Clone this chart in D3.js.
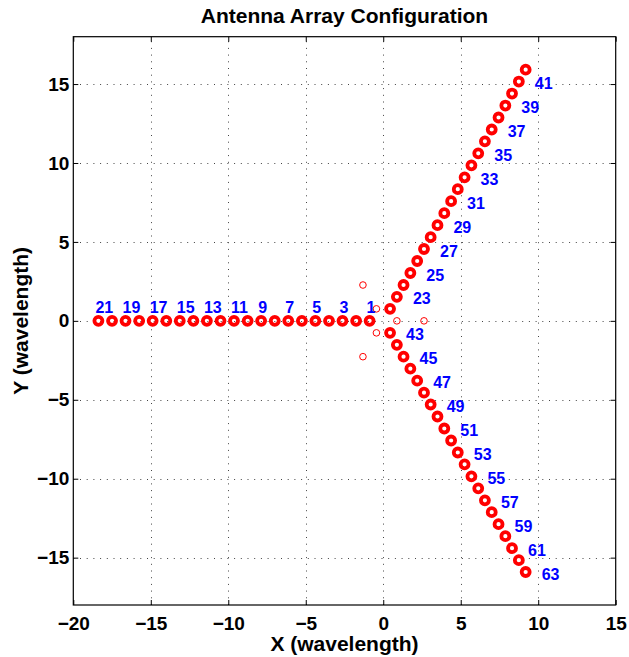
<!DOCTYPE html>
<html>
<head>
<meta charset="utf-8">
<script src="https://cdn.jsdelivr.net/npm/d3@7"></script>
<style>
  html, body { margin: 0; padding: 0; background: #fff; }
  text { font-family: "Liberation Sans", Arial, Helvetica, sans-serif; font-weight: bold; }
</style>
</head>
<body>
<script>
const xTicks = [-20, -15, -10, -5, 0, 5, 10, 15];
const yTicks = [-15, -10, -5, 0, 5, 10, 15];

// arm 1 (west), elements 1..21
const leftIds = [1, 2, 3, 4, 5, 6, 7, 8, 9, 10, 11, 12, 13, 14, 15, 16, 17, 18, 19, 20, 21];
const leftX = [-0.88, -1.75, -2.63, -3.50, -4.38, -5.25, -6.13, -7.00, -7.88, -8.75, -9.63,
  -10.50, -11.38, -12.25, -13.13, -14.00, -14.88, -15.75, -16.63, -17.50, -18.38];
const leftY = [0, 0, 0, 0, 0, 0, 0, 0, 0, 0, 0, 0, 0, 0, 0, 0, 0, 0, 0, 0, 0];

// arm 2 (north-east), elements 22..42
const upperIds = [22, 23, 24, 25, 26, 27, 28, 29, 30, 31, 32, 33, 34, 35, 36, 37, 38, 39, 40, 41, 42];
const upperX = [0.44, 0.88, 1.31, 1.75, 2.19, 2.63, 3.06, 3.50, 3.94, 4.38, 4.81,
  5.25, 5.69, 6.13, 6.56, 7.00, 7.44, 7.88, 8.31, 8.75, 9.19];
const upperY = [0.76, 1.52, 2.27, 3.03, 3.79, 4.55, 5.30, 6.06, 6.82, 7.58, 8.34,
  9.09, 9.85, 10.61, 11.37, 12.12, 12.88, 13.64, 14.40, 15.16, 15.91];

// arm 3 (south-east), elements 43..63
const lowerIds = [43, 44, 45, 46, 47, 48, 49, 50, 51, 52, 53, 54, 55, 56, 57, 58, 59, 60, 61, 62, 63];
const lowerX = [0.44, 0.88, 1.31, 1.75, 2.19, 2.63, 3.06, 3.50, 3.94, 4.38, 4.81,
  5.25, 5.69, 6.13, 6.56, 7.00, 7.44, 7.88, 8.31, 8.75, 9.19];
const lowerY = [-0.76, -1.52, -2.27, -3.03, -3.79, -4.55, -5.30, -6.06, -6.82, -7.58, -8.34,
  -9.09, -9.85, -10.61, -11.37, -12.12, -12.88, -13.64, -14.40, -15.16, -15.91];

// small inner elements
const innerX = [0.88, -0.44, -0.44, 2.63, -1.31, -1.31];
const innerY = [0, 0.76, -0.76, 0, 2.27, -2.27];

// element numbers written on the plot
const leftLabels = [1, 3, 5, 7, 9, 11, 13, 15, 17, 19, 21];
const upperLabels = [23, 25, 27, 29, 31, 33, 35, 37, 39, 41];
const lowerLabels = [43, 45, 47, 49, 51, 53, 55, 57, 59, 61, 63];

const main = () => {
  const width = 629;
  const height = 657;
  const margin = { top: 36.7, right: 13.3, bottom: 52, left: 73.3 };

  const svg = d3.select("body")
      .append("svg")
      .attr("width", width)
      .attr("height", height)
      .attr("viewBox", [0, 0, width, height].join(" "));

  svg.append("rect")
      .attr("width", width)
      .attr("height", height)
      .attr("fill", "#fff");

  const x = d3.scaleLinear()
      .domain([-20, 15])
      .range([margin.left, width - margin.right]);

  const y = d3.scaleLinear()
      .domain([-18, 18])
      .range([height - margin.bottom, margin.top]);

  const x0 = x.range()[0];
  const x1 = x.range()[1];
  const y0 = y.range()[0];
  const y1 = y.range()[1];

  // dotted grid
  const grid = svg.append("g")
      .attr("stroke", "#444")
      .attr("stroke-width", 1)
      .attr("stroke-dasharray", "1,5.7");

  grid.selectAll(".gx")
      .data(xTicks.slice(1, -1))
      .enter()
      .append("line")
      .attr("x1", (d) => Math.round(x(d)) + 0.5)
      .attr("x2", (d) => Math.round(x(d)) + 0.5)
      .attr("y1", y0)
      .attr("y2", y1);

  grid.selectAll(".gy")
      .data(yTicks)
      .enter()
      .append("line")
      .attr("y1", (d) => Math.round(y(d)) + 0.5)
      .attr("y2", (d) => Math.round(y(d)) + 0.5)
      .attr("x1", x0)
      .attr("x2", x1);

  // axes, ticks inside on all sides
  const fmt = d3.format("d");

  svg.append("g")
      .attr("transform", `translate(0, ${y0})`)
      .call(d3.axisBottom(x).tickValues(xTicks).tickSizeInner(-5).tickSizeOuter(0).tickPadding(11.5).tickFormat(fmt))
      .call((g) => g.select(".domain").remove());

  svg.append("g")
      .attr("transform", `translate(0, ${y1})`)
      .call(d3.axisTop(x).tickValues(xTicks).tickSizeInner(-5).tickSizeOuter(0).tickFormat(""))
      .call((g) => g.select(".domain").remove());

  svg.append("g")
      .attr("transform", `translate(${x0}, 0)`)
      .call(d3.axisLeft(y).tickValues(yTicks).tickSizeInner(-5).tickSizeOuter(0).tickPadding(4).tickFormat(fmt))
      .call((g) => g.select(".domain").remove());

  svg.append("g")
      .attr("transform", `translate(${x1}, 0)`)
      .call(d3.axisRight(y).tickValues(yTicks).tickSizeInner(-5).tickSizeOuter(0).tickFormat(""))
      .call((g) => g.select(".domain").remove());

  svg.selectAll(".tick line")
      .attr("stroke", "#000");

  svg.selectAll(".tick text")
      .attr("fill", "#000")
      .style("font-size", "19px")
      .style("font-family", "'Liberation Sans', Arial, sans-serif")
      .style("font-weight", "bold");

  svg.append("rect")
      .attr("x", x0)
      .attr("y", y1)
      .attr("width", x1 - x0)
      .attr("height", y0 - y1)
      .attr("fill", "none")
      .attr("stroke", "#000")
      .attr("stroke-width", 1.2);

  // elements
  const arms = [
    { ids: leftIds, xs: leftX, ys: leftY },
    { ids: upperIds, xs: upperX, ys: upperY },
    { ids: lowerIds, xs: lowerX, ys: lowerY },
  ];

  const elements = [];

  for (const arm of arms) {
    arm.ids.forEach((id, i) => {
      elements.push({ id: id, x: arm.xs[i], y: arm.ys[i] });
    });
  }

  svg.append("g")
      .selectAll("circle")
      .data(innerX.map((d, i) => ({ x: d, y: innerY[i] })))
      .enter()
      .append("circle")
      .attr("cx", (d) => x(d.x))
      .attr("cy", (d) => y(d.y))
      .attr("r", 3.3)
      .attr("fill", "none")
      .attr("stroke", "#ff0000")
      .attr("stroke-width", 1);

  svg.append("g")
      .selectAll("circle")
      .data(elements)
      .enter()
      .append("circle")
      .attr("cx", (d) => x(d.x))
      .attr("cy", (d) => y(d.y))
      .attr("r", 4)
      .attr("fill", "none")
      .attr("stroke", "#ff0000")
      .attr("stroke-width", 3.8);

  // element numbers
  const byId = new Map(elements.map((d) => [d.id, d]));

  const labels = svg.append("g")
      .attr("fill", "#0000ff")
      .style("font-size", "16px");

  labels.selectAll(".lw")
      .data(leftLabels.map((id) => byId.get(id)))
      .enter()
      .append("text")
      .attr("x", (d) => x(d.x) - 3)
      .attr("y", (d) => y(d.y) - 8)
      .text((d) => d.id);

  labels.selectAll(".le")
      .data(upperLabels.concat(lowerLabels).map((id) => byId.get(id)))
      .enter()
      .append("text")
      .attr("x", (d) => x(d.x) + 16)
      .attr("y", (d) => y(d.y) + 7.6)
      .text((d) => d.id);

  // titles
  svg.append("text")
      .attr("x", (x0 + x1) / 2)
      .attr("y", 23.3)
      .attr("text-anchor", "middle")
      .style("font-size", "21px")
      .text("Antenna Array Configuration");

  svg.append("text")
      .attr("x", (x0 + x1) / 2)
      .attr("y", 651)
      .attr("text-anchor", "middle")
      .style("font-size", "21px")
      .text("X (wavelength)");

  svg.append("text")
      .attr("transform", `translate(28, ${(y0 + y1) / 2}) rotate(-90)`)
      .attr("text-anchor", "middle")
      .style("font-size", "21px")
      .text("Y (wavelength)");
};

main();
</script>
</body>
</html>
